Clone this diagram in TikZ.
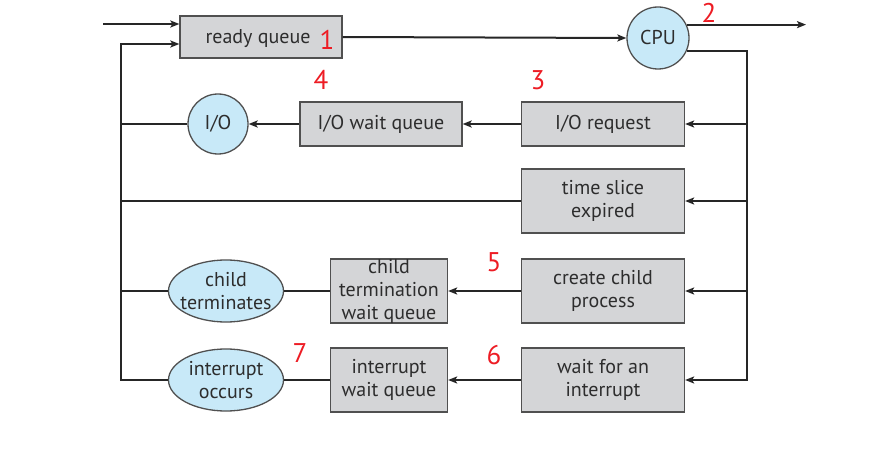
\documentclass[tikz,border=0pt]{standalone}
\usepackage{fontspec}
\setmainfont{PT Sans}
\usetikzlibrary{arrows.meta,shapes.geometric}
\definecolor{boxfill}{RGB}{212,213,215}
\definecolor{edgegray}{RGB}{80,80,80}
\definecolor{bubble}{RGB}{200,233,248}
\definecolor{tagred}{RGB}{237,28,36}
\definecolor{ink}{RGB}{45,45,45}
\begin{document}
\begin{tikzpicture}[x=1pt,y=-1pt,
  txt/.style={text=ink,font=\fontsize{20}{23}\selectfont,align=center},
  queuebox/.style={txt,draw=edgegray,line width=1.3pt,fill=boxfill,inner sep=0pt},
  bubblenode/.style={txt,draw=edgegray,line width=1.3pt,fill=bubble,inner sep=0pt},
  oval/.style={bubblenode,ellipse,inner xsep=-8pt,inner ysep=0pt,minimum width=115pt,minimum height=62pt},
  tag/.style={text=tagred,font=\fontsize{27}{27}\selectfont,inner sep=0pt},
  link/.style={line width=2pt,draw=black!85,line join=miter},
  arr/.style={link,-{Stealth[length=9pt,width=7pt,inset=2pt]}}]
\useasboundingbox (0,0) rectangle (883,468);

% queues and events
\node[queuebox,minimum width=162pt,minimum height=42pt] (rq) at (261,37) {};
\node[txt,inner sep=0pt] (rqlabel) at (258,39) {ready queue};
\node[tag] (t1) at (327,40) {1};
\node[bubblenode,circle,minimum size=62pt] (cpu) at (658,38) {CPU};
\node[tag] (t2) at (709,13) {2};

\node[queuebox,minimum width=163pt,minimum height=44pt] (iorq) at (603,124) {I/O request};
\node[tag] (t3) at (538,80) {3};
\node[queuebox,minimum width=162pt,minimum height=44pt] (iowq) at (381,124) {I/O wait queue};
\node[tag] (t4) at (321,80) {4};
\node[bubblenode,circle,minimum size=60pt] (io) at (218,124) {I/O};

\node[queuebox,minimum width=163pt,minimum height=64pt] (ts) at (603,201) {time slice\\expired};

\node[queuebox,minimum width=163pt,minimum height=64pt] (cc) at (603,291) {create child\\process};
\node[tag] (t5) at (494,262) {5};
\node[queuebox,minimum width=117pt,minimum height=64pt] (ctq) at (389,291) {child\\termination\\wait queue};
\node[oval] (ct) at (226,291) {child\\terminates};

\node[queuebox,minimum width=163pt,minimum height=64pt] (wfi) at (603,380) {wait for an\\interrupt};
\node[tag] (t6) at (494,355) {6};
\node[queuebox,minimum width=117pt,minimum height=64pt] (iwq) at (389,380) {interrupt\\wait queue};
\node[oval] (ic) at (226,380) {interrupt\\occurs};
\node[tag] (t7) at (300,353) {7};

% bus corners and free ends
\coordinate (start) at (103,24);
\coordinate (exit) at (806,26);
\coordinate (rbus) at (747,380);
\coordinate (lbus) at (121,380);
\coordinate (ltop) at (121,44);

% main flow
\draw[arr] (start) -- (start -| rq.west);
\draw[arr] (rq.east) -- (cpu.west);
\draw[arr] (cpu.25) -- (cpu.25 -| exit);

% right-hand bus from the CPU
\draw[arr] (cpu.-25) -| (rbus) -- (wfi.east);
\draw[arr] (iorq.east -| rbus) -- (iorq.east);
\draw[arr] (ts.east -| rbus) -- (ts.east);
\draw[arr] (cc.east -| rbus) -- (cc.east);

% event chains
\draw[arr] (iorq.west) -- (iowq.east);
\draw[arr] (iowq.west) -- (io.east);
\draw[arr] (cc.west) -- (ctq.east);
\draw[link] (ctq.west) -- (ct.east);
\draw[arr] (wfi.west) -- (iwq.east);
\draw[link] (iwq.west) -- (ic.east);

% left-hand return bus to the ready queue
\draw[arr] (ic.west) -- (lbus) -- (ltop) -- (ltop -| rq.west);
\draw[link] (io.west) -- (io.west -| lbus);
\draw[link] (ts.west) -- (ts.west -| lbus);
\draw[link] (ct.west) -- (ct.west -| lbus);
\end{tikzpicture}
\end{document}
